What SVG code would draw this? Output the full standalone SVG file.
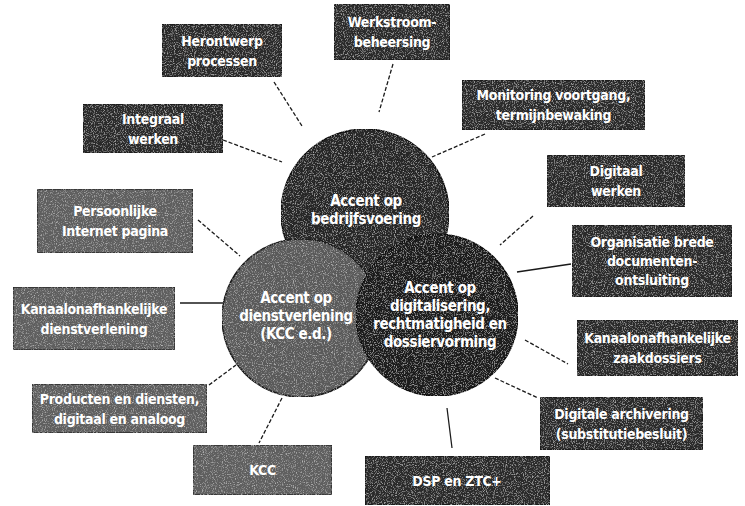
<svg xmlns="http://www.w3.org/2000/svg" width="745" height="506" viewBox="0 0 745 506">
<style>
  .box-dark{fill:#2c2c2c;stroke:#151515;stroke-width:1.2}
  .box-mid{fill:#5e5e5e;stroke:#222;stroke-width:1.2}
  .lbl{font-family:"DejaVu Sans Condensed","Liberation Sans",sans-serif;font-weight:bold;font-size:14px;letter-spacing:-0.3px;fill:#ffffff;text-anchor:middle}
  .clbl{font-family:"DejaVu Sans Condensed","Liberation Sans",sans-serif;font-weight:bold;font-size:15px;letter-spacing:-0.4px;fill:#ffffff;text-anchor:middle}
  .con{stroke:#1a1a1a;stroke-width:1.3;fill:none}
  .dash{stroke-dasharray:4 2}
</style>
<defs>
  <filter id="grain" x="0" y="0" width="100%" height="100%">
    <feTurbulence type="fractalNoise" baseFrequency="0.9" numOctaves="2" seed="4" result="n"/>
    <feColorMatrix in="n" type="matrix" values="0 0 0 0 1  0 0 0 0 1  0 0 0 0 1  1.2 0 0 0 -0.62" result="w"/>
    <feComposite in="w" in2="SourceGraphic" operator="atop"/>
  </filter>
</defs>
<rect x="0" y="0" width="745" height="506" fill="#ffffff"/>

<g id="connectors">
  <line class="con dash" x1="274" y1="82" x2="302" y2="126"/>
  <line class="con dash" x1="393" y1="64" x2="379" y2="112"/>
  <line class="con dash" x1="485" y1="134" x2="432" y2="157"/>
  <line class="con dash" x1="223" y1="140" x2="282" y2="162"/>
  <line class="con dash" x1="533" y1="216" x2="500" y2="245"/>
  <line class="con dash" x1="198" y1="220" x2="240" y2="256"/>
  <line class="con" x1="571" y1="264" x2="517" y2="272"/>
  <line class="con" x1="180" y1="303" x2="224" y2="303"/>
  <line class="con dash" x1="525" y1="340" x2="568" y2="364"/>
  <line class="con dash" x1="495" y1="378" x2="538" y2="398"/>
  <line class="con" x1="447" y1="408" x2="452" y2="448"/>
  <line class="con dash" x1="282" y1="398" x2="259" y2="443"/>
  <line class="con dash" x1="209" y1="385" x2="236" y2="365"/>
</g>

<g id="circle-bedrijfsvoering">
  <circle cx="365" cy="213" r="84" fill="#262626" stroke="#111" stroke-width="1.5" filter="url(#grain)"/>
  <text class="clbl"><tspan x="366" y="206">Accent op</tspan><tspan x="366" y="224">bedrijfsvoering</tspan></text>
</g>
<g id="circle-dienstverlening">
  <circle cx="301" cy="318" r="79" fill="#5a5a5a" stroke="#1a1a1a" stroke-width="1.5" filter="url(#grain)"/>
  <text class="clbl"><tspan x="296" y="303">Accent op</tspan><tspan x="296" y="321">dienstverlening</tspan><tspan x="296" y="339">(KCC e.d.)</tspan></text>
</g>
<g id="circle-digitalisering">
  <circle cx="437" cy="315" r="81" fill="#1c1c1c" stroke="#0d0d0d" stroke-width="1.5" filter="url(#grain)"/>
  <text class="clbl"><tspan x="440" y="293">Accent op</tspan><tspan x="440" y="311">digitalisering,</tspan><tspan x="440" y="329">rechtmatigheid en</tspan><tspan x="440" y="347">dossiervorming</tspan></text>
</g>

<g id="box-herontwerp">
  <rect class="box-dark" x="162" y="24" width="120" height="53" filter="url(#grain)"/>
  <text class="lbl"><tspan x="222" y="45.5">Herontwerp</tspan><tspan x="222" y="65.5">processen</tspan></text>
</g>
<g id="box-werkstroom">
  <rect class="box-dark" x="334" y="4" width="116" height="56" filter="url(#grain)"/>
  <text class="lbl"><tspan x="392" y="27">Werkstroom-</tspan><tspan x="392" y="47">beheersing</tspan></text>
</g>
<g id="box-monitoring">
  <rect class="box-dark" x="462" y="80" width="183" height="50" filter="url(#grain)"/>
  <text class="lbl"><tspan x="553.5" y="100">Monitoring voortgang,</tspan><tspan x="553.5" y="120">termijnbewaking</tspan></text>
</g>
<g id="box-integraal">
  <rect class="box-dark" x="83" y="104" width="140" height="49" filter="url(#grain)"/>
  <text class="lbl"><tspan x="153" y="123.5">Integraal</tspan><tspan x="153" y="143.5">werken</tspan></text>
</g>
<g id="box-digitaal">
  <rect class="box-dark" x="547" y="155" width="138" height="52" filter="url(#grain)"/>
  <text class="lbl"><tspan x="616" y="176">Digitaal</tspan><tspan x="616" y="196">werken</tspan></text>
</g>
<g id="box-persoonlijke">
  <rect class="box-mid" x="37" y="189" width="156" height="64" filter="url(#grain)"/>
  <text class="lbl"><tspan x="115" y="216">Persoonlijke</tspan><tspan x="115" y="236">Internet pagina</tspan></text>
</g>
<g id="box-organisatie">
  <rect class="box-dark" x="572" y="225" width="160" height="72" filter="url(#grain)"/>
  <text class="lbl"><tspan x="652" y="247">Organisatie brede</tspan><tspan x="652" y="266">documenten-</tspan><tspan x="652" y="285">ontsluiting</tspan></text>
</g>
<g id="box-kanaal-dienst">
  <rect class="box-mid" x="13" y="287" width="162" height="63" filter="url(#grain)"/>
  <text class="lbl"><tspan x="94" y="313.5">Kanaalonafhankelijke</tspan><tspan x="94" y="333.5">dienstverlening</tspan></text>
</g>
<g id="box-kanaal-zaak">
  <rect class="box-dark" x="577" y="320" width="161" height="56" filter="url(#grain)"/>
  <text class="lbl"><tspan x="657.5" y="343">Kanaalonafhankelijke</tspan><tspan x="657.5" y="363">zaakdossiers</tspan></text>
</g>
<g id="box-producten">
  <rect class="box-mid" x="32" y="384" width="175" height="49" filter="url(#grain)"/>
  <text class="lbl"><tspan x="119.5" y="403.5">Producten en diensten,</tspan><tspan x="119.5" y="423.5">digitaal en analoog</tspan></text>
</g>
<g id="box-archivering">
  <rect class="box-dark" x="540" y="397" width="163" height="53" filter="url(#grain)"/>
  <text class="lbl"><tspan x="621.5" y="418.5">Digitale archivering</tspan><tspan x="621.5" y="438.5">(substitutiebesluit)</tspan></text>
</g>
<g id="box-kcc">
  <rect class="box-mid" x="193" y="445" width="139" height="50" filter="url(#grain)"/>
  <text class="lbl" x="262.5" y="475">KCC</text>
</g>
<g id="box-dsp">
  <rect class="box-dark" x="365" y="456" width="185" height="49" filter="url(#grain)"/>
  <text class="lbl" x="457" y="486">DSP en ZTC+</text>
</g>
</svg>
